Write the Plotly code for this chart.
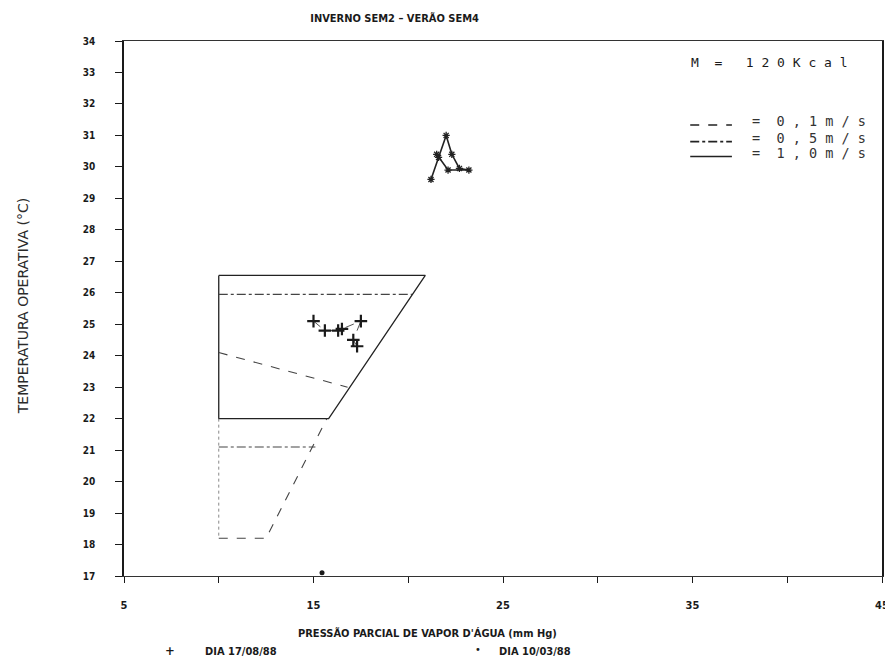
import plotly.graph_objects as go

# ---- data ----
title_text = "INVERNO SEM2 – VERÃO SEM4"
x_title = "PRESSÃO PARCIAL DE VAPOR D'ÁGUA (mm Hg)"
y_title = "TEMPERATURA OPERATIVA (°C)"

x_ticks = [5, 10, 15, 20, 25, 30, 35, 40, 45]
x_ticktext = ["5", "", "15", "", "25", "", "35", "", "45"]
y_ticks = list(range(17, 35))

# comfort-zone boundaries (vapor pressure mmHg, temperature °C)
v10_x = [10, 10, 15.8, 20.9, 10]          # 1,0 m/s  (solid)
v10_y = [26.55, 22.0, 22.0, 26.55, 26.55]
v05_up_x = [10, 20.2]                      # 0,5 m/s  (dash-dot)
v05_up_y = [25.95, 25.95]
v05_lo_x = [10, 15.1]
v05_lo_y = [21.1, 21.1]
v01_up_x = [10, 16.8]                      # 0,1 m/s  (dashed)
v01_up_y = [24.1, 23.0]
v01_lo_x = [10, 12.5, 15.7]
v01_lo_y = [18.2, 18.2, 22.0]
left_x = [10, 10]
left_y = [22.0, 18.2]

# observations
d1_x = [15.0, 15.6, 16.3, 16.5, 17.5, 17.1, 17.3]   # DIA 17/08/88
d1_y = [25.1, 24.8, 24.8, 24.85, 25.1, 24.5, 24.3]
d2_x = [21.2, 21.6, 22.0, 22.3, 22.7, 23.2, 22.1, 21.5]  # DIA 10/03/88
d2_y = [29.6, 30.3, 31.0, 30.4, 29.95, 29.9, 29.9, 30.4]
d3_x = [15.45]
d3_y = [17.1]

key_title = "M  =   1 2 0 K c a l"
legend_rows = ["=  0 , 1 m / s", "=  0 , 5 m / s", "=  1 , 0 m / s"]
legend_dashes = ["dash", "dashdot", "solid"]

FONT = "Liberation Sans Narrow, DejaVu Sans Condensed, Arial Narrow, sans-serif"
WIDE = "DejaVu Sans Condensed, DejaVu Sans, sans-serif"
MONO = "DejaVu Sans Mono, Liberation Mono, monospace"
INK = "#1a1a1a"

fig = go.Figure()

def line(x, y, dash, width=1.2, color="#333"):
    fig.add_trace(go.Scatter(x=x, y=y, mode="lines", showlegend=False,
                             line=dict(color=color, width=width, dash=dash),
                             hoverinfo="skip"))

line(v10_x, v10_y, "solid", 1.3, "#222")
line(v05_up_x, v05_up_y, "dashdot", 1.1, "#444")
line(v05_lo_x, v05_lo_y, "dashdot", 1.1, "#444")
line(v01_up_x, v01_up_y, "dash", 1.1, "#444")
line(v01_lo_x, v01_lo_y, "dash", 1.1, "#444")
line(left_x, left_y, "dot", 1.0, "#888")

fig.add_trace(go.Scatter(x=d1_x, y=d1_y, mode="lines+markers", showlegend=False,
                         line=dict(color="#555", width=1, dash="dash"),
                         marker=dict(symbol="cross-thin", size=9,
                                     line=dict(color=INK, width=2.2))))
fig.add_trace(go.Scatter(x=d2_x, y=d2_y, mode="lines+markers", showlegend=False,
                         line=dict(color="#222", width=1.6),
                         marker=dict(symbol="asterisk-open", size=6,
                                     line=dict(color=INK, width=1.3))))
fig.add_trace(go.Scatter(x=d3_x, y=d3_y, mode="markers", showlegend=False,
                         marker=dict(symbol="circle", size=5, color=INK)))

# in-plot key (top right)
ann = [dict(xref="paper", yref="paper", x=0.745, y=0.959, xanchor="left",
            yanchor="middle", text=key_title, showarrow=False,
            font=dict(family=MONO, size=13, color=INK))]
key_y = [0.850, 0.819, 0.791]
for txt, dsh, ky in zip(legend_rows, legend_dashes, key_y):
    ann.append(dict(xref="paper", yref="paper", x=0.826, y=ky, xanchor="left",
                    yanchor="middle", text=txt, showarrow=False,
                    font=dict(family=MONO, size=13.5, color="#333")))
    fig.add_shape(type="line", xref="paper", yref="paper", x0=0.747, x1=0.802,
                  y0=ky - 0.007, y1=ky - 0.007,
                  line=dict(color="#222", width=1.6, dash=dsh))

# axis titles as positioned text
ann += [
    dict(xref="paper", yref="paper", x=0.401, y=-0.107, xanchor="center",
         yanchor="middle", text=x_title, showarrow=False,
         font=dict(family=WIDE, size=11, color=INK, weight="bold")),
    dict(xref="paper", yref="paper", x=-0.134, y=0.505, xanchor="center",
         yanchor="middle", text=y_title, textangle=-90, showarrow=False,
         font=dict(family="DejaVu Sans, sans-serif", size=14, color="#2a2a2a")),
]

# bottom legend
ann += [
    dict(xref="paper", yref="paper", x=0.052, y=-0.157, text="+", showarrow=False,
         font=dict(family=FONT, size=13, color=INK, weight="bold")),
    dict(xref="paper", yref="paper", x=0.104, y=-0.157, xanchor="left", text="DIA 17/08/88",
         showarrow=False, font=dict(family=FONT, size=11, color=INK, weight="bold")),
    dict(xref="paper", yref="paper", x=0.467, y=-0.153, text="•", showarrow=False,
         font=dict(family=FONT, size=11, color=INK)),
    dict(xref="paper", yref="paper", x=0.492, y=-0.157, xanchor="left", text="DIA 10/03/88",
         showarrow=False, font=dict(family=FONT, size=11, color=INK, weight="bold")),
]

# page has an 8px body margin: figure is drawn 8px right/down of the page origin
fig.update_layout(
    width=885, height=656,
    margin=dict(l=116, r=11, t=33, b=88, autoexpand=False),
    paper_bgcolor="white", plot_bgcolor="white",
    title=dict(text=title_text, x=0.357, xanchor="center", xref="paper",
               y=1 - 10 / 656, yref="container", yanchor="middle", automargin=False,
               font=dict(family=FONT, size=11, color=INK, weight="bold")),
    annotations=ann,
    showlegend=False,
    font=dict(family=FONT, color=INK),
)
fig.update_xaxes(range=[5, 45], tickvals=x_ticks, ticktext=x_ticktext,
                 ticks="outside", ticklen=6, tickcolor=INK, tickwidth=1.2,
                 showline=True, linecolor="#333", linewidth=1.3, mirror=True,
                 showgrid=False, zeroline=False, ticklabelstandoff=13,
                 automargin=False,
                 tickfont=dict(family=FONT, size=11, color=INK, weight="bold"))
fig.update_yaxes(range=[17, 34], tickvals=y_ticks,
                 ticks="outside", ticklen=7, tickcolor=INK, tickwidth=1.2,
                 showline=True, linecolor=INK, linewidth=1.6, mirror=True,
                 showgrid=False, zeroline=False, ticklabelstandoff=18,
                 automargin=False,
                 tickfont=dict(family=FONT, size=10, color=INK, weight="bold"))

fig.write_html("out.html")
